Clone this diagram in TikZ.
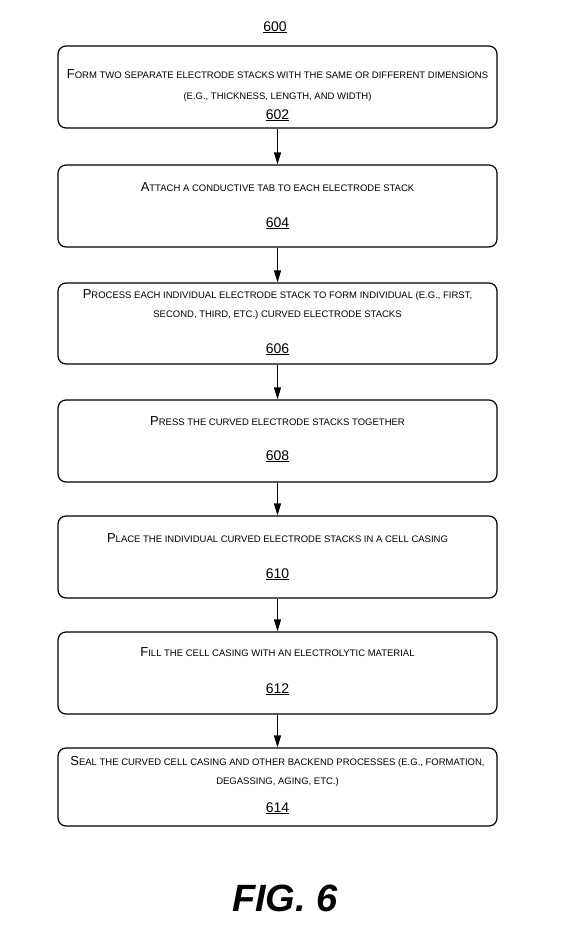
\documentclass[tikz,border=0pt]{standalone}
\usepackage{fontspec}
\setmainfont{Liberation Sans}
\usetikzlibrary{arrows.meta}
\newcommand\bigL[1]{{\fontsize{13}{13}\selectfont #1}}
\tikzset{
  stepbox/.style={draw, line width=1.2pt, rounded corners=8pt, minimum width=439pt, inner sep=0pt},
  txt/.style={font=\fontsize{9.5}{9.5}\selectfont, inner sep=0pt, anchor=base},
  num/.style={font=\fontsize{14}{14}\selectfont, inner sep=0pt, anchor=base},
  flow/.style={line width=1.2pt, -{Triangle[length=12pt,width=7pt]}},
}
\newcommand\ul[1]{\underline{#1}}
\begin{document}
\begin{tikzpicture}[x=1pt,y=-1pt]
\useasboundingbox (0,0) rectangle (577,946);
\node[num] (n600) at (275,31) {\ul{600}};
\node[stepbox, minimum height=82pt] (b1) at (277.5,87) {};
\node[stepbox, minimum height=82pt] (b2) at (277.5,206) {};
\node[stepbox, minimum height=81pt] (b3) at (277.5,323.5) {};
\node[stepbox, minimum height=82pt] (b4) at (277.5,441) {};
\node[stepbox, minimum height=82pt] (b5) at (277.5,557) {};
\node[stepbox, minimum height=82pt] (b6) at (277.5,673) {};
\node[stepbox, minimum height=78pt] (b7) at (277.5,787) {};

\node[txt] (t1a) at (277.5,78) {\bigL{F}ORM TWO SEPARATE ELECTRODE STACKS WITH THE SAME OR DIFFERENT DIMENSIONS};
\node[txt] (t1b) at (277.5,99) {(E.G., THICKNESS, LENGTH, AND WIDTH)};
\node[num] (n602) at (277.5,119) {\ul{602}};

\node[txt] (t2) at (277.5,191) {\bigL{A}TTACH A CONDUCTIVE TAB TO EACH ELECTRODE STACK};
\node[num] (n604) at (277.5,227) {\ul{604}};

\node[txt] (t3a) at (277.5,298) {\bigL{P}ROCESS EACH INDIVIDUAL ELECTRODE STACK TO FORM INDIVIDUAL (E.G., FIRST,};
\node[txt] (t3b) at (277.5,317) {SECOND, THIRD, ETC.) CURVED ELECTRODE STACKS};
\node[num] (n606) at (277.5,353) {\ul{606}};

\node[txt] (t4) at (277.5,425) {\bigL{P}RESS THE CURVED ELECTRODE STACKS TOGETHER};
\node[num] (n608) at (277.5,460) {\ul{608}};

\node[txt] (t5) at (277.5,542) {\bigL{P}LACE THE INDIVIDUAL CURVED ELECTRODE STACKS IN A CELL CASING};
\node[num] (n610) at (277.5,578) {\ul{610}};

\node[txt] (t6) at (277.5,656) {\bigL{F}ILL THE CELL CASING WITH AN ELECTROLYTIC MATERIAL};
\node[num] (n612) at (277.5,693) {\ul{612}};

\node[txt] (t7a) at (277.5,765) {\bigL{S}EAL THE CURVED CELL CASING AND OTHER BACKEND PROCESSES (E.G., FORMATION,};
\node[txt] (t7b) at (277.5,784) {DEGASSING, AGING, ETC.)};
\node[num] (n614) at (277.5,812) {\ul{614}};

\node[font=\fontsize{38}{38}\selectfont\bfseries\itshape, inner sep=0pt] (fig) at (285,898) {FIG. 6};

\draw[flow] (b1.south) -- (b2.north);
\draw[flow] (b2.south) -- (b3.north);
\draw[flow] (b3.south) -- (b4.north);
\draw[flow] (b4.south) -- (b5.north);
\draw[flow] (b5.south) -- (b6.north);
\draw[flow] (b6.south) -- (b7.north);
\end{tikzpicture}
\end{document}
